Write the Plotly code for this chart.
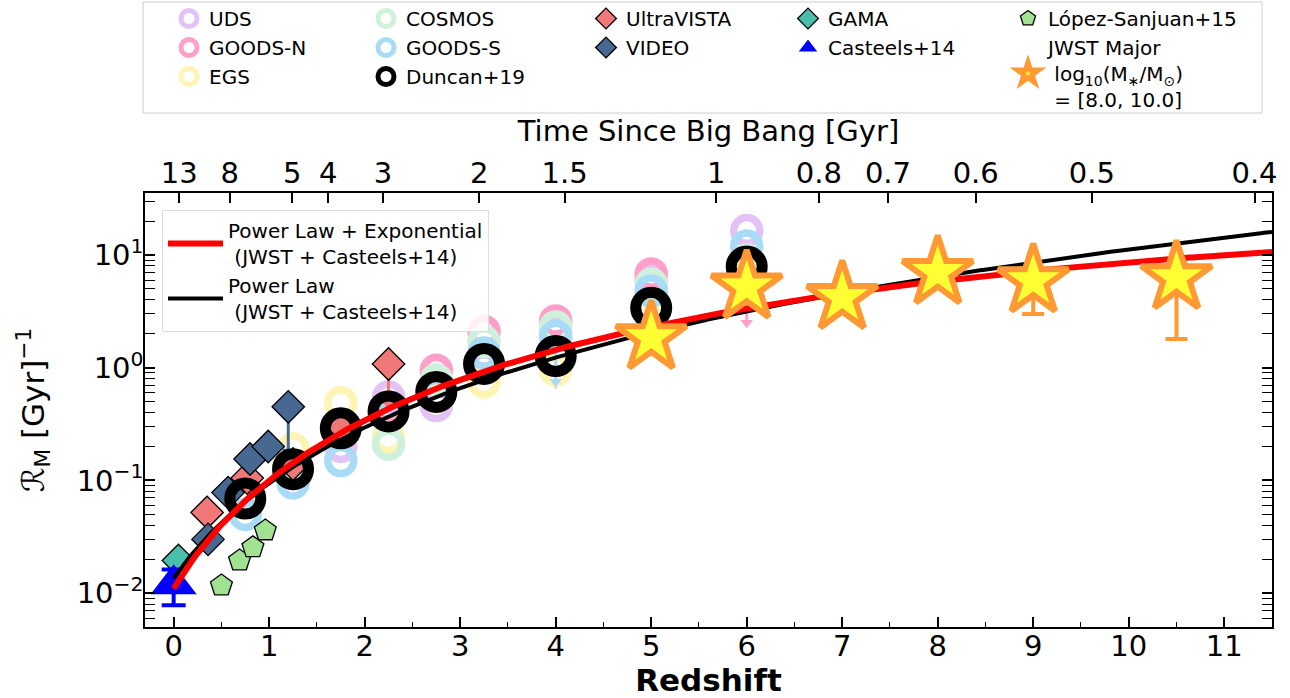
import numpy as np
import plotly.graph_objects as go

FONT = "DejaVu Sans"

# ---------------- data ----------------
field_z = [0.75, 1.25, 1.75, 2.25, 2.75, 3.25, 4.0, 5.0, 6.0]

uds_R = [0.075, 0.12, 0.20, 0.55, 0.46, 1.0, 2.1, 6.0, 16.5]
uds_lim = [0, 0, 0, 0, 0, 0, 1.38, 0, 0]
goodsn_R = [0.07, 0.115, 0.27, 0.45, 0.95, 2.1, 2.6, 6.8, 6.5]
goodsn_lim = [0, 0, 0, 0, 0, 0, 0, 0, 4.0]
egs_R = [0.065, 0.19, 0.49, 0.24, 0.55, 0.75, 0.95, 3.0, 7.0]
egs_lim = [0, 0, 0, 0, 0, 0, 0, 0, 0]
cosmos_R = [0.07, 0.13, 0.28, 0.21, 0.78, 1.7, 2.3, 5.5, 9.0]
cosmos_lim = [0, 0, 0, 0, 0, 0, 0, 0, 0]
goodss_R = [0.05, 0.095, 0.15, 0.38, 0.59, 1.35, 1.9, 4.8, 12.0]
goodss_lim = [0, 0, 0, 0, 0, 0, 1.15, 2.9, 0]

duncan_z = [0.75, 1.25, 1.75, 2.25, 2.75, 3.25, 4.0, 5.0, 6.0]
duncan_R = [0.069, 0.126, 0.29, 0.41, 0.61, 1.08, 1.27, 3.4, 7.9]

uvista_z = [0.35, 0.77, 1.25, 1.77, 2.25]
uvista_R = [0.052, 0.105, 0.14, 0.30, 1.08]
uvista_lim = [0, 0, 0, 0, 0.6]

video_z = [0.36, 0.57, 0.80, 0.99, 1.20]
video_R = [0.030, 0.078, 0.155, 0.20, 0.45]
video_lim = [0, 0, 0, 0, 0.27]

gama_z = [0.05]
gama_R = [0.0195]

casteels_z = [0.0]
casteels_R = [0.012]
casteels_err = [0.0042]

lopez_z = [0.50, 0.69, 0.83, 0.96]
lopez_R = [0.0117, 0.0195, 0.0255, 0.036]

jwst_z = [5.0, 6.0, 7.0, 8.0, 9.0, 10.5]
jwst_R = [1.85, 5.2, 4.2, 7.0, 5.9, 6.3]
jwst_err_lo = [0.3, 1.0, 0.7, 1.0, 2.9, 4.5]
jwst_err_hi = [0.3, 1.0, 0.7, 1.0, 1.5, 2.0]

# fit parameters
pe_A, pe_m, pe_c = 0.011, 3.40, -0.149      # power law + exponential
pl_A, pl_m = 0.0136, 2.80                   # power law

# top-axis ticks: time since Big Bang (Gyr)
age_ticks = [13, 8, 5, 4, 3, 2, 1.5, 1, 0.8, 0.7, 0.6, 0.5, 0.4]
age_labels = ["13", "8", "5", "4", "3", "2", "1.5", "1", "0.8", "0.7", "0.6", "0.5", "0.4"]

# flat LCDM cosmology
H0, Om = 67.7, 0.31
OL = 1 - Om
tH = 977.8 / H0


def z_at_age(t):
    t = np.asarray(t, dtype=float)
    s = np.sinh(1.5 * np.sqrt(OL) * t / tH) / np.sqrt(OL / Om)
    return s ** (-2.0 / 3.0) - 1


age_z = z_at_age(age_ticks)

XR = [-0.3, 11.5]
YR = [-2.3, 1.55]

fig = go.Figure()


def ring_trace(name, z, R, lim, color, legend, rank):
    z = np.array(z)
    R = np.array(R)
    lim = np.array(lim)
    fig.add_trace(go.Scatter(
        x=z, y=R, mode="markers", name=name, legend=legend, legendrank=rank,
        marker=dict(symbol="circle-open", size=26, color=color,
                    line=dict(color=color, width=7.5)),
        error_y=dict(type="data", symmetric=False, array=np.zeros_like(R),
                     arrayminus=lim, width=0, thickness=3, color=color),
    ))
    m = lim > 0
    if m.any():
        fig.add_trace(go.Scatter(
            x=z[m], y=(R - lim)[m], mode="markers", showlegend=False,
            marker=dict(symbol="triangle-down", size=11, color=color, line=dict(width=0)),
        ))


ring_trace("UDS", field_z, uds_R, uds_lim, "#E3C3F6", "legend", 1)
ring_trace("GOODS-N", field_z, goodsn_R, goodsn_lim, "#FF9FCA", "legend", 2)
ring_trace("EGS", field_z, egs_R, egs_lim, "#FFF4B3", "legend", 3)
ring_trace("COSMOS", field_z, cosmos_R, cosmos_lim, "#CFF1DC", "legend2", 1)
ring_trace("GOODS-S", field_z, goodss_R, goodss_lim, "#A8DCF6", "legend2", 2)


def diamond_trace(name, z, R, lim, color, legend, rank):
    z = np.array(z)
    R = np.array(R)
    lim = np.array(lim)
    fig.add_trace(go.Scatter(
        x=z, y=R, mode="markers", name=name, legend=legend, legendrank=rank,
        marker=dict(symbol="diamond", size=25, color=color,
                    line=dict(color="black", width=1.3)),
        error_y=dict(type="data", symmetric=False, array=np.zeros_like(R),
                     arrayminus=lim, width=0, thickness=3, color=color),
    ))
    m = lim > 0
    if m.any():
        fig.add_trace(go.Scatter(
            x=z[m], y=(R - lim)[m], mode="markers", showlegend=False,
            marker=dict(symbol="triangle-down", size=12, color=color, line=dict(width=0)),
        ))


diamond_trace("UltraVISTA", uvista_z, uvista_R, uvista_lim, "#F07878", "legend3", 1)
diamond_trace("VIDEO", video_z, video_R, video_lim, "#466891", "legend3", 2)

fig.add_trace(go.Scatter(
    x=gama_z, y=gama_R, mode="markers", name="GAMA", legend="legend4", legendrank=1,
    marker=dict(symbol="diamond", size=25, color="#49BEAB", line=dict(color="black", width=1.3)),
))
fig.add_trace(go.Scatter(
    x=lopez_z, y=lopez_R, mode="markers", name="López-Sanjuan+15", legend="legend5", legendrank=1,
    marker=dict(symbol="pentagon", size=23, color="#A0E291", line=dict(color="black", width=1.3)),
))
fig.add_trace(go.Scatter(
    x=casteels_z, y=casteels_R, mode="markers", name="Casteels+14", legend="legend4", legendrank=2,
    marker=dict(symbol="triangle-up", size=40, color="#0000FF", line=dict(width=0)),
    error_y=dict(type="data", array=casteels_err, width=12, thickness=4, color="#0000FF"),
))

fig.add_trace(go.Scatter(
    x=duncan_z, y=duncan_R, mode="markers", name="Duncan+19", legend="legend2", legendrank=3,
    marker=dict(symbol="circle-open", size=31, color="black", line=dict(color="black", width=11)),
))

# fits
zz = np.linspace(0, XR[1], 400)
R_pe = pe_A * (1 + zz) ** pe_m * np.exp(pe_c * zz)
R_pl = pl_A * (1 + zz) ** pl_m
fig.add_trace(go.Scatter(
    x=zz, y=R_pl, mode="lines", line=dict(color="black", width=4),
    name="Power Law<br>\u00a0(JWST + Casteels+14)", legend="legend6", legendrank=2,
))
fig.add_trace(go.Scatter(
    x=zz, y=R_pe, mode="lines", line=dict(color="#FF0000", width=6),
    name="Power Law + Exponential<br>\u00a0(JWST + Casteels+14)", legend="legend6", legendrank=1,
))

fig.add_trace(go.Scatter(
    x=jwst_z, y=jwst_R, mode="markers", legend="legend5", legendrank=2,
    name="JWST Major<br>\u00a0log<sub>10</sub>(M<sub>\u2217</sub>/M<sub>\u2299</sub>)<br>\u00a0= [8.0, 10.0]",
    marker=dict(symbol="star", size=53, color="#FFFF33", line=dict(color="#FF9933", width=6)),
    error_y=dict(type="data", symmetric=False, array=jwst_err_hi, arrayminus=jwst_err_lo,
                 width=11, thickness=4, color="#FF9933"),
))

# dummy trace to activate top axis
fig.add_trace(go.Scatter(x=[], y=[], xaxis="x2", yaxis="y", showlegend=False))

# ---------------- layout ----------------
L, R_, T, B = 145, 18, 193, 71
W, H = 1290, 698
pw, ph = W - L - R_, H - T - B


def px(xpix):
    return (xpix - L) / pw


def py(ypix):
    return (H - B - ypix) / ph


axis_font = dict(family=FONT, size=29, color="black")

y_major = [0.01, 0.1, 1, 10]
y_major_txt = ["10<sup>\u22122</sup>", "10<sup>\u22121</sup>", "10<sup>0</sup>", "10<sup>1</sup>"]
y_minor = [k * 10.0 ** n for n in range(-3, 2) for k in range(2, 10)]

fig.update_layout(
    width=W, height=H,
    margin=dict(l=L, r=R_, t=T, b=B, autoexpand=False),
    paper_bgcolor="white", plot_bgcolor="white",
    font=dict(family=FONT, color="black"),
    xaxis=dict(
        range=XR, tickmode="linear", tick0=0, dtick=1, automargin=False,
        ticks="inside", ticklen=10, tickwidth=1.5, tickcolor="black",
        minor=dict(dtick=0.5, tick0=0, ticks="inside", ticklen=5, tickwidth=1.2, tickcolor="black"),
        showline=True, linecolor="black", linewidth=1.5, mirror=False,
        showgrid=False, zeroline=False, tickfont=axis_font, ticklabelstandoff=-8,
        title=dict(text="<b>Redshift</b>", font=dict(family=FONT, size=31), standoff=0),
    ),
    xaxis2=dict(
        overlaying="x", side="top", anchor="y", range=XR, automargin=False,
        tickmode="array", tickvals=list(age_z), ticktext=age_labels,
        ticks="inside", ticklen=10, tickwidth=1.5, tickcolor="black",
        showline=True, linecolor="black", linewidth=1.5,
        showgrid=False, zeroline=False, tickfont=axis_font, ticklabelstandoff=-3,
        title=dict(text="Time Since Big Bang [Gyr]", font=dict(family=FONT, size=29), standoff=6),
    ),
    yaxis=dict(
        type="log", range=YR, automargin=False,
        tickmode="array", tickvals=y_major, ticktext=y_major_txt,
        ticks="inside", ticklen=10, tickwidth=1.5, tickcolor="black",
        minor=dict(tickmode="array", tickvals=y_minor, ticks="inside", ticklen=5,
                   tickwidth=1.2, tickcolor="black", showgrid=False),
        showline=True, linecolor="black", linewidth=1.5, mirror="allticks",
        showgrid=False, zeroline=False, tickfont=axis_font, ticklabelstandoff=-6,
        title=dict(text="\u211B<sub>M</sub> [Gyr]<sup>\u22121</sup>", font=dict(family=FONT, size=31), standoff=23),
    ),
    showlegend=True,
)

leg_common = dict(font=dict(family=FONT, size=20, color="black"), bgcolor="rgba(0,0,0,0)",
                  borderwidth=0, xanchor="left", yanchor="top", tracegroupgap=0,
                  itemsizing="trace", traceorder="normal")
top_y = py(-1)
fig.update_layout(
    legend=dict(x=px(169), y=top_y, **leg_common),
    legend2=dict(x=px(366), y=top_y, **leg_common),
    legend3=dict(x=px(586), y=top_y, **leg_common),
    legend4=dict(x=px(788), y=top_y, **leg_common),
    legend5=dict(x=px(1008), y=top_y, **leg_common),
    legend6=dict(x=px(162), y=py(210), xanchor="left", yanchor="top",
                 font=dict(family=FONT, size=20, color="black"),
                 bgcolor="rgba(255,255,255,0.85)", bordercolor="#dddddd", borderwidth=1,
                 traceorder="normal", itemwidth=55),
)

fig.add_shape(type="rect", xref="paper", yref="paper",
              x0=px(143), x1=px(1262), y0=py(113), y1=py(2),
              line=dict(color="#cccccc", width=1), fillcolor="rgba(0,0,0,0)", layer="below")

fig.write_html("out.html", config={"displayModeBar": False},
               post_script="document.body.style.margin='0';")
